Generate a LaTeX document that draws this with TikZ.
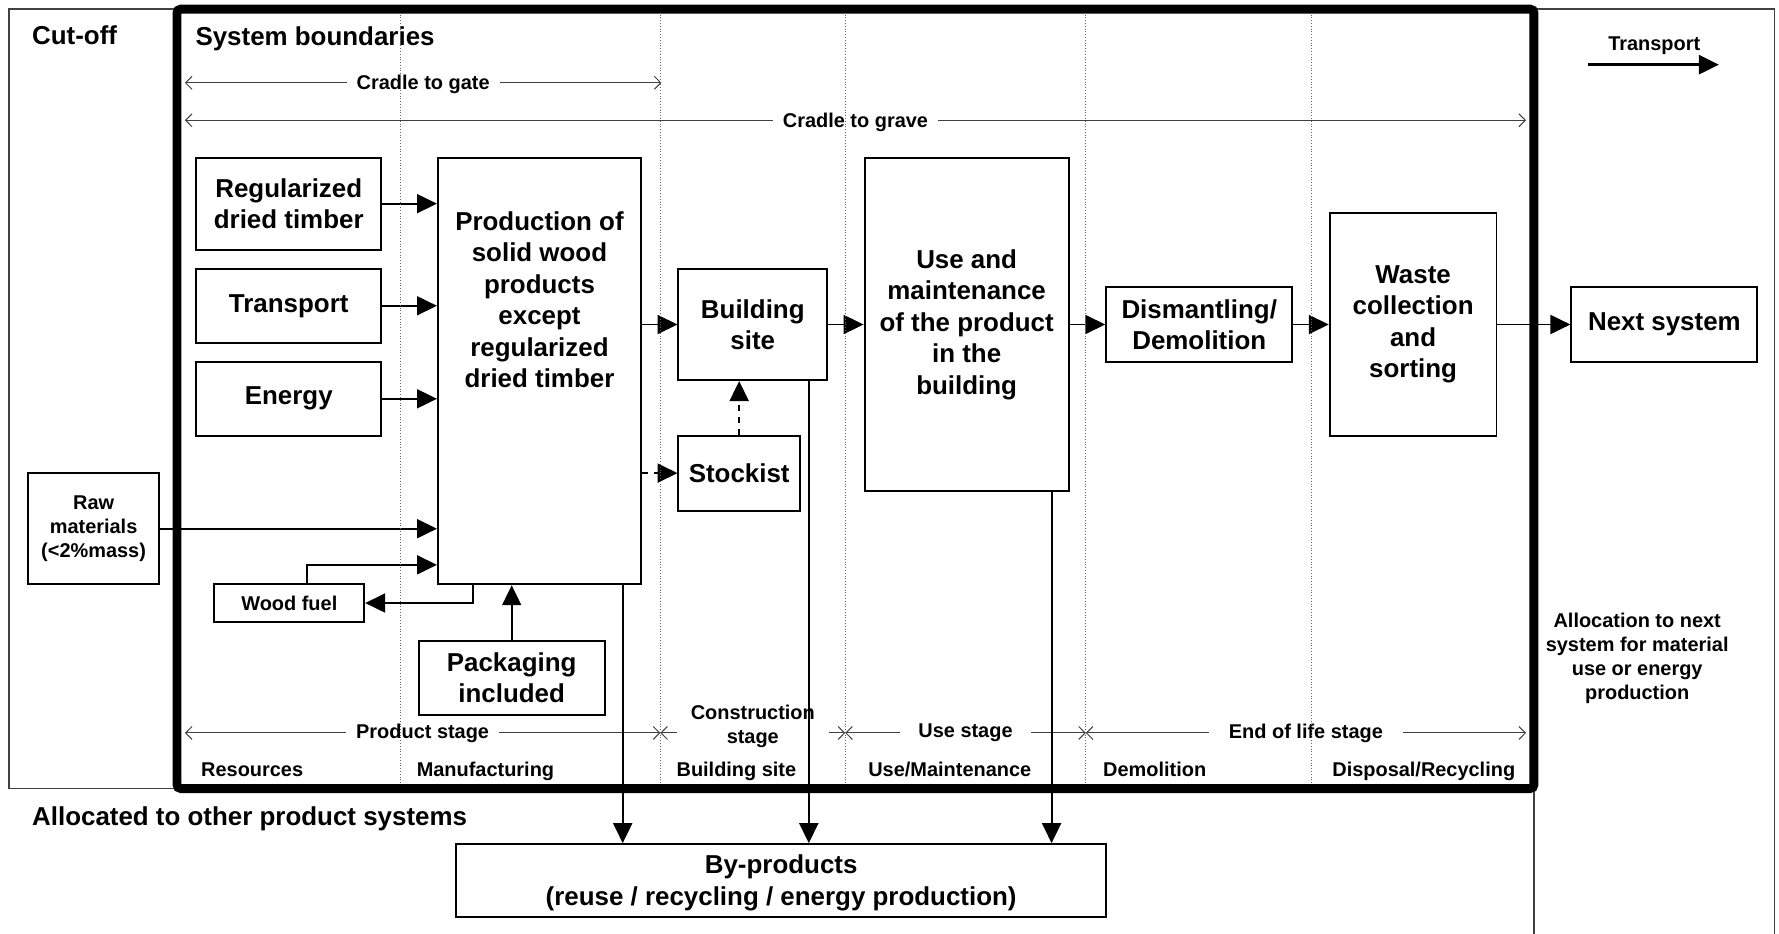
\documentclass[tikz,border=0pt]{standalone}
\usepackage{fontspec}
\setmainfont{Liberation Sans}
\usetikzlibrary{arrows.meta, calc}

\newcommand{\boxtxt}{\fontsize{13}{15.8}\selectfont\bfseries}
\newcommand{\labtxt}{\fontsize{10}{12}\selectfont\bfseries}

\tikzset{
  box/.style = {draw, line width = 1pt, align = center, inner sep = 0pt, font = \boxtxt},
  smallbox/.style = {box, font = \labtxt},
  txt/.style = {inner sep = 0pt, align = center, font = \boxtxt},
  lbl/.style = {inner sep = 0pt, align = center, font = \labtxt},
  flow/.style = {line width = 1pt, -{Triangle[length = 10pt, width = 9.5pt]}},
  dflow/.style = {flow, dashed},
  span/.style = {black!75, line width = 0.5pt,
    {Straight Barb[length = 3.2pt, width = 6.5pt]}-{Straight Barb[length = 3.2pt, width = 6.5pt]}},
  spanlabel/.style = {lbl, fill = white, inner xsep = 5pt, inner ysep = 1pt, text = black},
  colline/.style = {black!60, line width = 0.4pt, densely dotted},
  frame/.style = {black!75, line width = 0.6pt},
}

\begin{document}
    \begin{tikzpicture}[x = 0.02cm, y = -0.02cm]
      \useasboundingbox (0, 0) rectangle (1568, 823);

      \draw [frame] (156, 695) -- (8, 695) -- (8, 8) -- (1564, 8) -- (1564, 823);
      \draw [frame] (1352, 695) -- (1352, 823);

      \node [txt, anchor = base west] (cutoff) at (28, 39) {Cut-off};
      \node [txt, anchor = base west] (sysbound) at (172, 40) {System boundaries};
      \node [txt, anchor = base west] (othersys) at (28, 728) {Allocated to other product systems};

      \coordinate (gate0) at (163, 73);
      \coordinate (gate1) at (583, 73);
      \draw [span] (gate0) -- node [spanlabel, yshift = -1pt] (gatelbl) {Cradle to gate} (gate1);
      \coordinate (grave0) at (163, 106);
      \coordinate (grave1) at (1345, 106);
      \draw [span] (grave0) -- node [spanlabel, yshift = -1pt] (gravelbl) {Cradle to grave} (grave1);

      \coordinate (st0) at (163, 646);
      \coordinate (st1) at (582, 646);
      \coordinate (st2) at (745, 646);
      \coordinate (st3) at (957, 646);
      \coordinate (st4) at (1345, 646);
      \draw [span] (st0) -- node [spanlabel] (prodstage) {Product stage} (st1);
      \draw [span] (st1) -- node [spanlabel, yshift = 3.5pt, inner xsep = 7pt] (conststage) {Construction\\stage} (st2);
      \draw [span] (st2) -- node [spanlabel, inner xsep = 9pt] (usestage) {Use stage} (st3);
      \draw [span] (st3) -- node [spanlabel, inner xsep = 10pt] (eolstage) {End of life stage} (st4);

      \node [lbl, anchor = base west] (resources) at (177, 684) {Resources};
      \node [lbl, anchor = base west] (manuf) at (367, 684) {Manufacturing};
      \node [lbl, anchor = base west] (buildlbl) at (596, 684) {Building site};
      \node [lbl, anchor = base west] (uselbl) at (765, 684) {Use/Maintenance};
      \node [lbl, anchor = base west] (demlbl) at (972, 684) {Demolition};
      \node [lbl, anchor = base west] (displbl) at (1174, 684) {Disposal/Recycling};

      \node [lbl] (transplbl) at (1458, 40) {Transport};
      \coordinate (tleft) at (1400, 57);
      \coordinate (tright) at (1515, 57);
      \draw [flow, line width = 1.3pt] (tleft) -- (tright);

      \node [lbl] (alloc) at (1443, 580) {Allocation to next\\system for material\\use or energy\\production};

      \node [box, minimum width = 3.26cm, minimum height = 1.62cm] (reg) at (254.5, 179.5) {Regularized\\dried timber};
      \node [box, minimum width = 3.26cm, minimum height = 1.30cm] (transp) at (254.5, 269.5) {Transport};
      \node [box, minimum width = 3.26cm, minimum height = 1.30cm] (energy) at (254.5, 351.5) {Energy};
      \node [box, minimum width = 3.58cm, minimum height = 7.52cm] (prod) at (475.5, 327) {};
      \node [txt] (prodtxt) at (475.5, 264) {Production of\\solid wood\\products\\except\\regularized\\dried timber};
      \node [smallbox, minimum width = 2.30cm, minimum height = 1.96cm] (raw) at (82.5, 466) {Raw\\materials\\(<2\%mass)};
      \node [smallbox, minimum width = 2.64cm, minimum height = 0.66cm] (wfuel) at (255, 531.5) {Wood fuel};
      \node [box, minimum width = 3.28cm, minimum height = 1.30cm] (pack) at (451, 597.5) {Packaging\\included};
      \node [box, minimum width = 2.62cm, minimum height = 1.96cm] (bsite) at (663.5, 286) {Building\\site};
      \node [box, minimum width = 2.14cm, minimum height = 1.32cm] (stock) at (651.5, 417) {Stockist};
      \node [box, minimum width = 3.60cm, minimum height = 5.88cm] (use) at (852, 286) {Use and\\maintenance\\of the product\\in the\\building};
      \node [box, minimum width = 3.28cm, minimum height = 1.32cm] (dism) at (1057, 286) {Dismantling/\\Demolition};
      \node [box, minimum width = 2.94cm, minimum height = 3.92cm] (waste) at (1245.5, 286) {Waste\\collection\\and\\sorting};
      \node [box, minimum width = 3.28cm, minimum height = 1.32cm] (next) at (1467, 286) {Next system};
      \node [box, minimum width = 11.46cm, minimum height = 1.28cm] (bypr) at (688.5, 776) {};
      \node [txt] (byprtxt) at (688.5, 778) {By-products\\(reuse / recycling / energy production)};

      \draw [flow] (reg.east) -- (reg.east -| prod.west);
      \draw [flow] (transp.east) -- (transp.east -| prod.west);
      \draw [flow] (energy.east) -- (energy.east -| prod.west);
      \draw [flow] (raw.east) -- (raw.east -| prod.west);
      \draw [flow] ($(wfuel.north) + (16, 0)$) |- ($(prod.south west) + (0, -18)$);
      \draw [flow] ($(prod.south west) + (32, 0)$) |- (wfuel.east);
      \draw [flow] (pack.north) -- (pack.north |- prod.south);
      \draw [flow] (bsite.west -| prod.east) -- (bsite.west);
      \draw [dflow] (stock.west -| prod.east) -- (stock.west);
      \draw [dflow] (stock.north) -- (stock.north |- bsite.south);
      \draw [flow] (bsite.east) -- (bsite.east -| use.west);
      \draw [flow] (dism.west -| use.east) -- (dism.west);
      \draw [flow] (dism.east) -- (waste.west);
      \draw [flow] (waste.east) -- (next.west);

      \coordinate (prodout) at ($(prod.south east) + (-17, 0)$);
      \coordinate (bsiteout) at ($(bsite.south east) + (-17, 0)$);
      \coordinate (useout) at ($(use.south east) + (-16, 0)$);
      \draw [flow] (prodout) -- (prodout |- bypr.north);
      \draw [flow] (bsiteout) -- (bsiteout |- bypr.north);
      \draw [flow] (useout) -- (useout |- bypr.north);

      \draw [colline] (353, 8) -- (353, 695);
      \draw [colline] (582, 8) -- (582, 695);
      \draw [colline] (745, 8) -- (745, 695);
      \draw [colline] (957, 8) -- (957, 695);
      \draw [colline] (1156, 8) -- (1156, 695);

      \draw [line width = 4.5pt, rounded corners = 2pt] (156, 8) rectangle (1352, 695);
    \end{tikzpicture}
\end{document}
